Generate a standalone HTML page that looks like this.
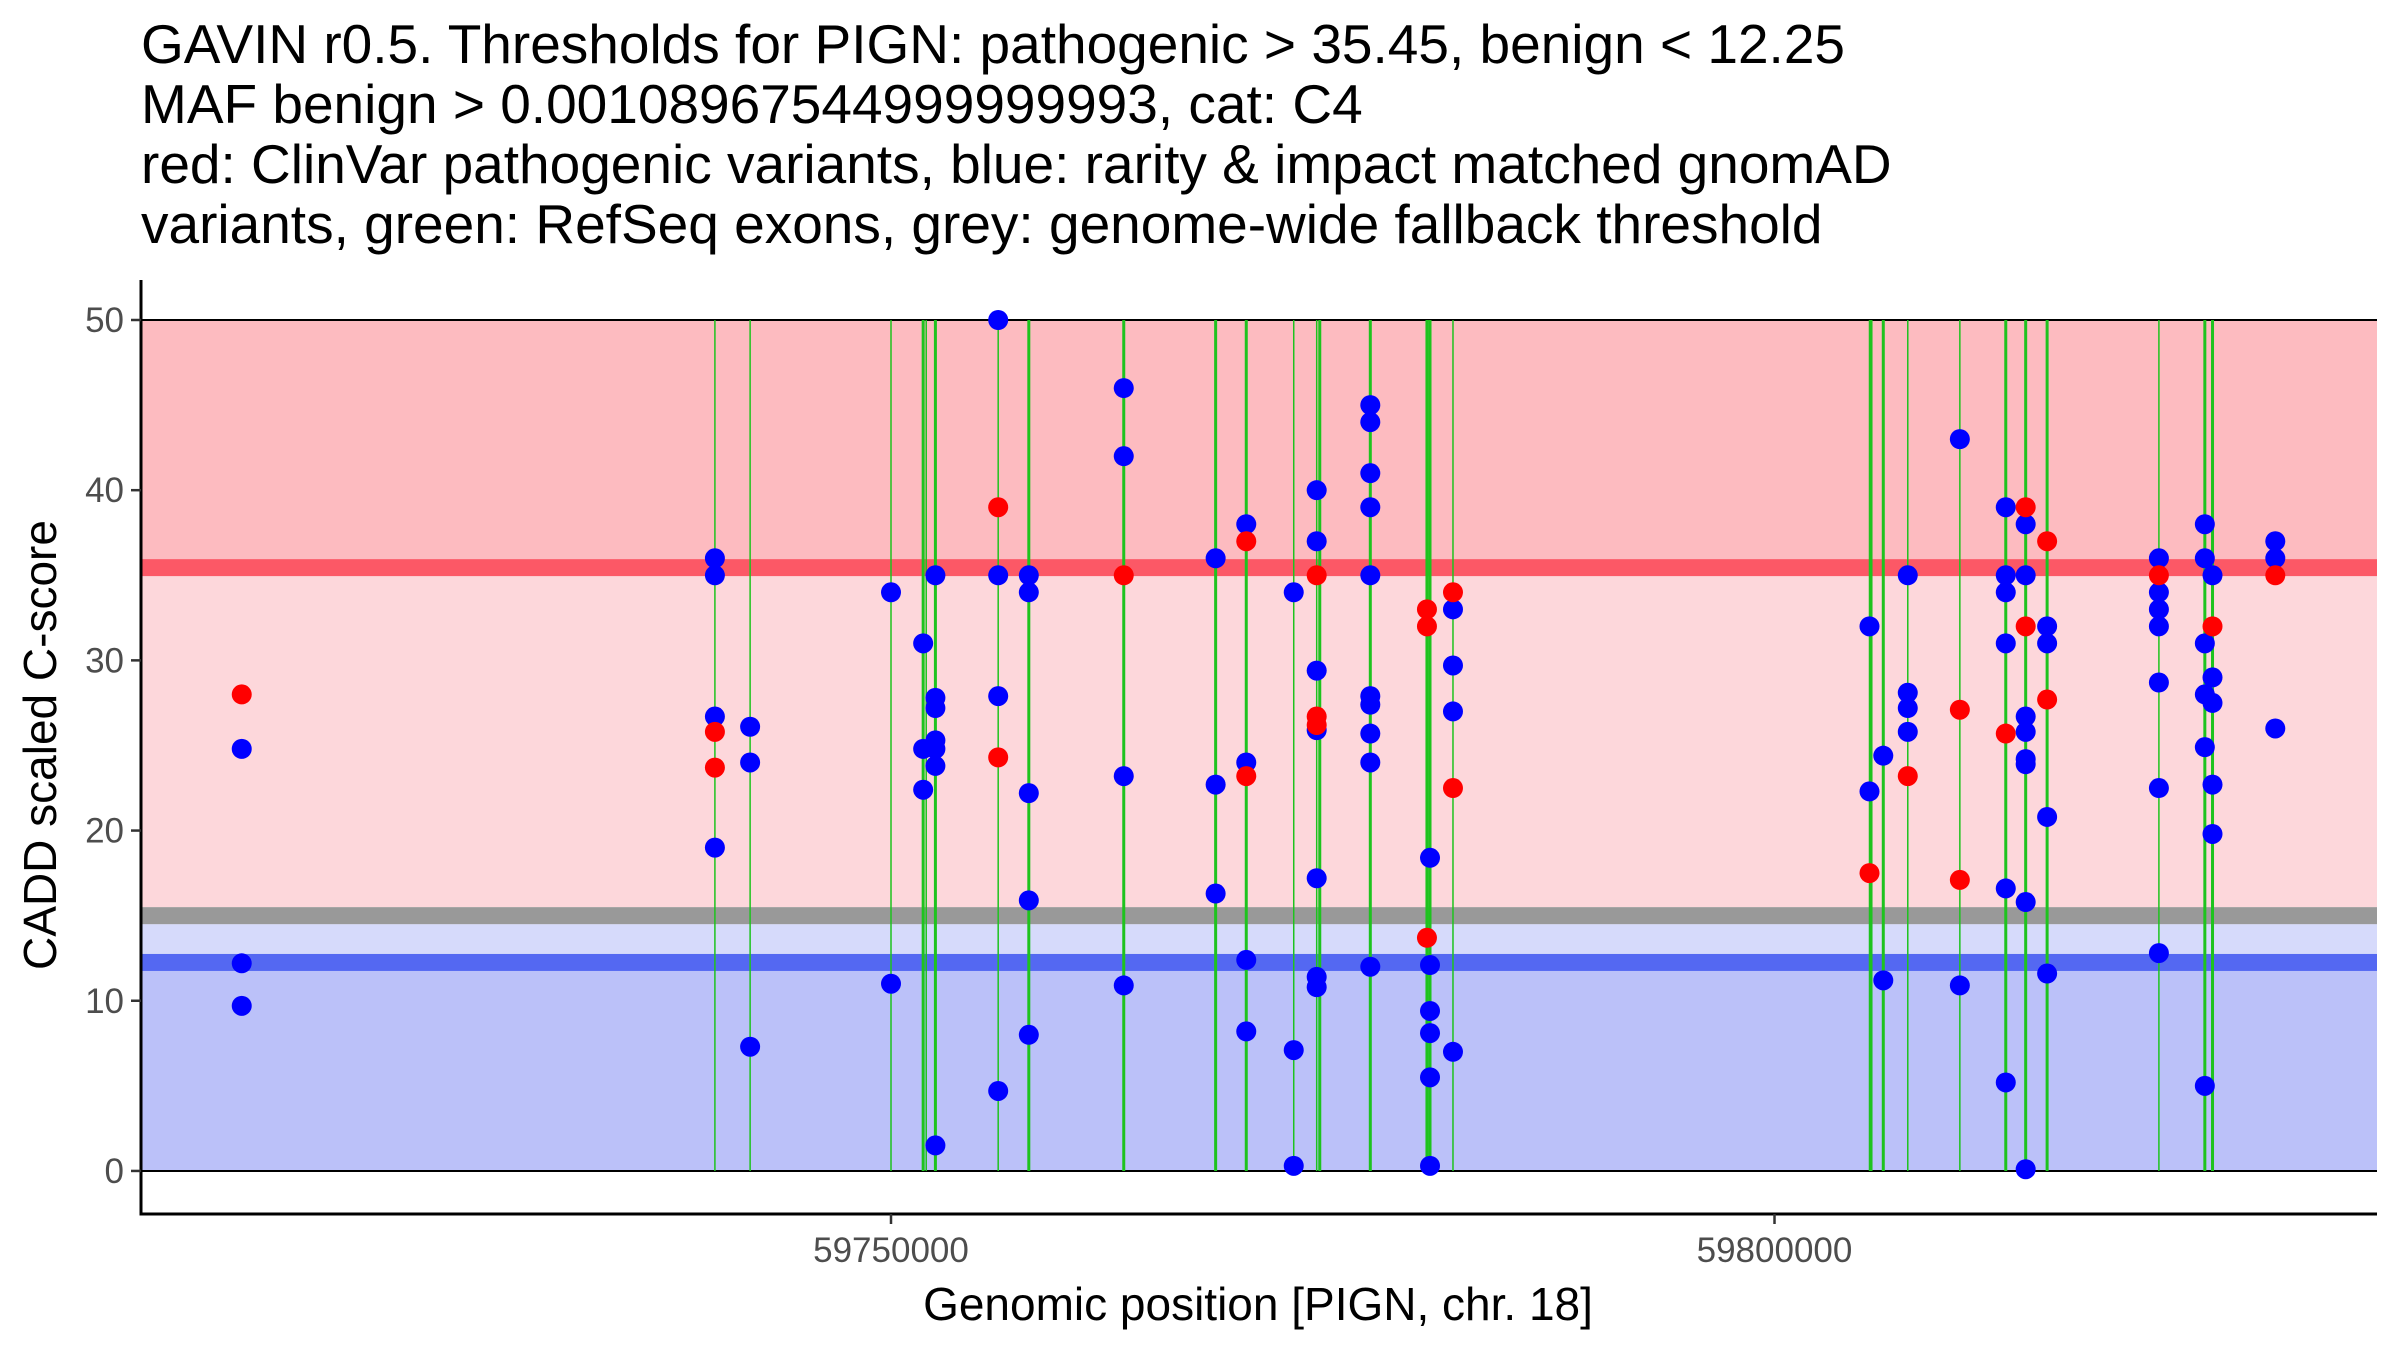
<!DOCTYPE html>
<html><head><meta charset="utf-8"><style>
html,body{margin:0;padding:0;background:#fff;}
svg{display:block;font-family:"Liberation Sans",Arial,sans-serif;}
</style></head><body>
<svg id="chart" width="2400" height="1350" viewBox="0 0 2400 1350">
<g font-size="55" fill="#000">
<text x="141" y="63">GAVIN r0.5. Thresholds for PIGN: pathogenic &gt; 35.45, benign &lt; 12.25</text>
<text x="141" y="123">MAF benign &gt; 0.00108967544999999993, cat: C4</text>
<text x="141" y="183">red: ClinVar pathogenic variants, blue: rarity &amp; impact matched gnomAD</text>
<text x="141" y="243">variants, green: RefSeq exons, grey: genome-wide fallback threshold</text>
</g>
<g id="bands"></g>
<g id="exons"></g>
<g id="points"></g>
<g id="axes"></g>
<text transform="translate(56,745) rotate(-90)" text-anchor="middle" font-size="46" fill="#000">CADD scaled C-score</text>
<text x="1258" y="1320" text-anchor="middle" font-size="46" fill="#000">Genomic position [PIGN, chr. 18]</text>
</svg>
<script>
const exonPositions=[59740034,59742027,59750000,59751820,59751993,59752513,59756066,59757799,59763172,59768372,59770105,59772792,59774091,59774265,59777125,59780331,59780504,59781804,59805376,59805463,59806156,59807542,59810489,59813088,59814215,59815428,59821754,59824354,59824788];
const exonWidths=[1.5,1.5,1.5,3,1.5,3,1.5,3,3,3,3,1.5,1.5,3,3,3,3,1.5,1.5,3,3,1.5,1.5,3,3,3,1.5,3,3];
const benignPos=[59713256,59713256,59713256,59740034,59740034,59740034,59740034,59742027,59742027,59742027,59750000,59750000,59751820,59751820,59751820,59752513,59752513,59752513,59752513,59752513,59752513,59752513,59756066,59756066,59756066,59756066,59757799,59757799,59757799,59757799,59757799,59763172,59763172,59763172,59763172,59768372,59768372,59768372,59770105,59770105,59770105,59770105,59772792,59772792,59772792,59774091,59774091,59774091,59774091,59774091,59774091,59774091,59777125,59777125,59777125,59777125,59777125,59777125,59777125,59777125,59777125,59777125,59780504,59780504,59780504,59780504,59780504,59780504,59781804,59781804,59781804,59781804,59805376,59805376,59806156,59806156,59807542,59807542,59807542,59807542,59810489,59810489,59813088,59813088,59813088,59813088,59813088,59813088,59814215,59814215,59814215,59814215,59814215,59814215,59814215,59814215,59815428,59815428,59815428,59815428,59821754,59821754,59821754,59821754,59821754,59821754,59821754,59824354,59824354,59824354,59824354,59824354,59824354,59824788,59824788,59824788,59824788,59824788,59828341,59828341,59828341];
const benignScore=[24.8,12.2,9.7,36,35,26.7,19,26.1,24,7.3,34,11,31,24.8,22.4,35,27.8,27.2,25.3,24.8,23.8,1.5,50,35,27.9,4.7,35,34,22.2,15.9,8,46,42,23.2,10.9,36,22.7,16.3,38,24,12.4,8.2,34,7.1,0.3,40,37,29.4,25.9,17.2,11.4,10.8,45,44,41,39,35,27.9,27.4,25.7,24,12,18.4,12.1,9.4,8.1,5.5,0.3,33,29.7,27,7,32,22.3,24.4,11.2,35,28.1,27.2,25.8,43,10.9,39,35,34,31,16.6,5.2,38,35,26.7,25.8,24.2,23.9,15.8,0.1,32,31,20.8,11.6,36,34,33,32,28.7,22.5,12.8,38,36,31,28,24.9,5,35,29,27.5,22.7,19.8,37,36,26];
const pathoPos=[59713256,59740034,59740034,59756066,59756066,59763172,59770105,59770105,59774091,59774091,59774091,59780331,59780331,59780331,59781804,59781804,59805376,59807542,59810489,59810489,59813088,59814215,59814215,59815428,59815428,59821754,59824788,59828341];
const pathoScore=[28,25.8,23.7,39,24.3,35,37,23.2,35,26.7,26.2,33,32,13.7,34,22.5,17.5,23.2,27.1,17.1,25.7,39,32,37,27.7,35,32,35];
const yTicks=[0,10,20,30,40,50];
const xTicks=[59750000,59800000];
const xMin=59707555,xMax=59834097,yMin=-2.53,yMax=52.35;
const L=141,R=2377,T=280,B=1214;
const xs=v=>L+(v-xMin)/(xMax-xMin)*(R-L);
const ys=v=>B-(v-yMin)/(yMax-yMin)*(B-T);
const NS='http://www.w3.org/2000/svg';
function mk(tag,attrs,parent){const e=document.createElementNS(NS,tag);for(const k in attrs)e.setAttribute(k,attrs[k]);parent.appendChild(e);return e;}
const bands=document.getElementById('bands');
const rects=[[50,35.95,'#FDBBC0','pathogenic-region'],[34.95,15.5,'#FDD7DB','uncertain-region'],[14.5,12.75,'#D6DAFB','fallback-benign-region'],[11.75,0,'#BBC1F9','benign-region'],[35.95,34.95,'#FC5866','pathogenic-threshold-band'],[15.5,14.5,'#999999','fallback-threshold-band'],[12.75,11.75,'#5468F2','benign-threshold-band']];
rects.forEach(r=>{const e=mk('rect',{x:L,y:ys(r[0]),width:R-L,height:ys(r[1])-ys(r[0]),fill:r[2]},bands);

});
[50,0].forEach(v=>{const e=mk('line',{x1:L,x2:R,y1:ys(v),y2:ys(v),stroke:'#000','stroke-width':2},bands);

});
const ex=document.getElementById('exons');
exonPositions.forEach((p,i)=>{const e=mk('line',{x1:xs(p),x2:xs(p),y1:ys(50),y2:ys(0),stroke:'#1EC31E','stroke-width':exonWidths[i]},ex);

});
const pts=document.getElementById('points');
benignPos.forEach((p,i)=>{const e=mk('circle',{cx:xs(p),cy:ys(benignScore[i]),r:10,fill:'#0000FF'},pts);

});
pathoPos.forEach((p,i)=>{const e=mk('circle',{cx:xs(p),cy:ys(pathoScore[i]),r:10,fill:'#FF0000'},pts);

});
const ax=document.getElementById('axes');
let e=mk('line',{x1:L,x2:L,y1:T,y2:B+1.5,stroke:'#000','stroke-width':3},ax);


e=mk('line',{x1:L-1.5,x2:R,y1:B,y2:B,stroke:'#000','stroke-width':3},ax);


yTicks.forEach(v=>{const t=mk('line',{x1:L-10,x2:L,y1:ys(v),y2:ys(v),stroke:'#333','stroke-width':2.5},ax);


const l=mk('text',{x:L-17,y:ys(v)+12,'text-anchor':'end','font-size':35,fill:'#4D4D4D'},ax);l.textContent=v;

});
xTicks.forEach(v=>{const t=mk('line',{x1:xs(v),x2:xs(v),y1:B,y2:B+10,stroke:'#333','stroke-width':2.5},ax);


const l=mk('text',{x:xs(v),y:B+48,'text-anchor':'middle','font-size':35,fill:'#4D4D4D'},ax);l.textContent=v;

});
</script>
</body></html>
